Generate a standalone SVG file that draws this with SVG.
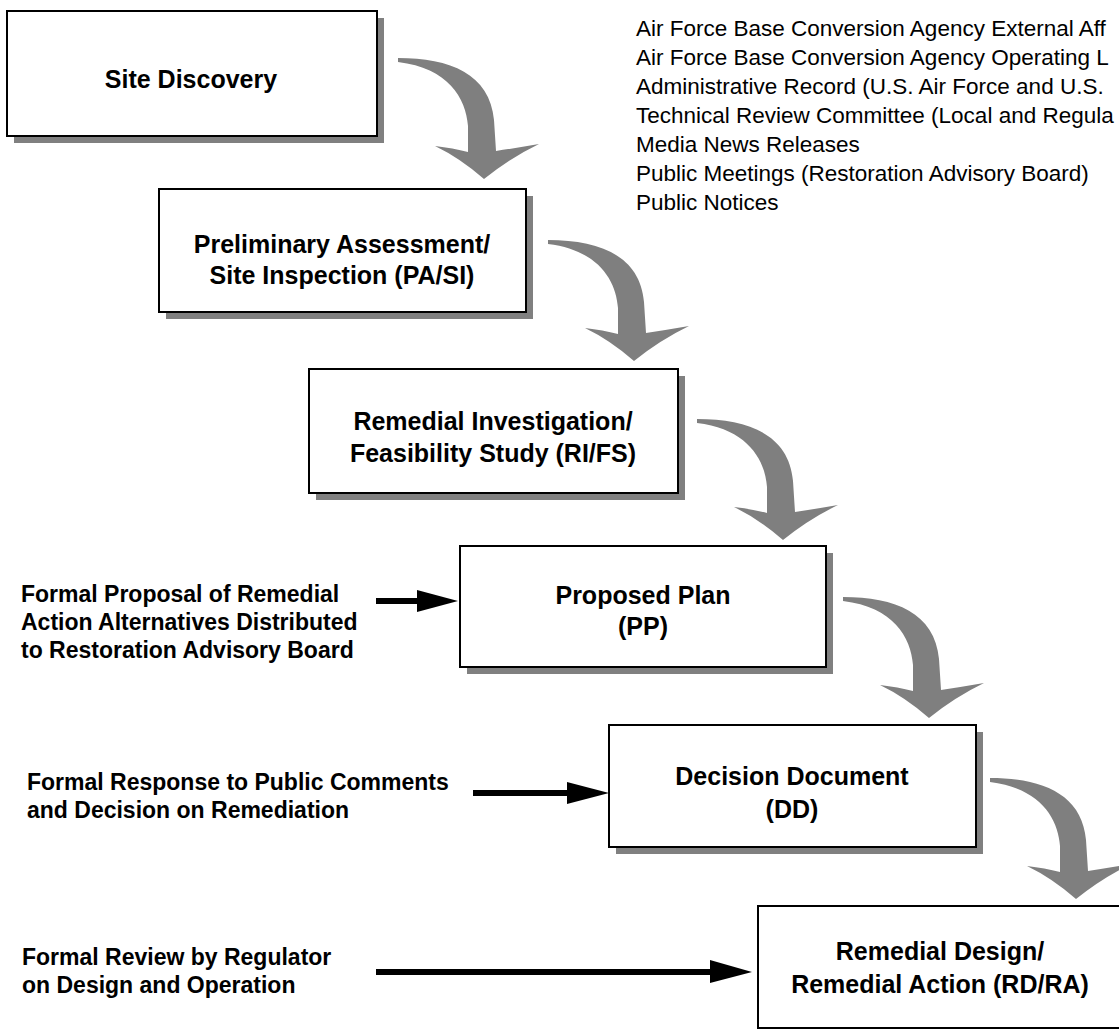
<svg xmlns="http://www.w3.org/2000/svg" width="1119" height="1030" viewBox="0 0 1119 1030">
<style>
.box{fill:#fff;stroke:#000;stroke-width:2}
.shadow{fill:#808080}
.bt{font-family:"Liberation Sans",Arial,sans-serif;font-weight:bold;font-size:25px;text-anchor:middle;fill:#000}
.lbl{font-family:"Liberation Sans",Arial,sans-serif;font-weight:bold;font-size:23px;fill:#000}
.lst{font-family:"Liberation Sans",Arial,sans-serif;font-size:22.5px;fill:#000}
.curv{fill:#7f7f7f}
.shaft{stroke:#000;stroke-width:6;fill:none}
.head{fill:#000}
</style>
<defs>
<path id="carrow" d="M0,0 C52,0 92,16 96,62 L98,93 Q118,90 141,86 Q112,100 86,121 Q62,100 37,88 Q55,90 70,94 L70,68 C68,40 50,10 0,4 Z"/>
</defs>
<rect width="1119" height="1030" fill="#fff"/>

<g id="public-involvement-list">
<text class="lst" x="636" y="36">Air Force Base Conversion Agency External Aff</text>
<text class="lst" x="636" y="65">Air Force Base Conversion Agency Operating L</text>
<text class="lst" x="636" y="94">Administrative Record (U.S. Air Force and U.S.</text>
<text class="lst" x="636" y="123">Technical Review Committee (Local and Regula</text>
<text class="lst" x="636" y="152">Media News Releases</text>
<text class="lst" x="636" y="181">Public Meetings (Restoration Advisory Board)</text>
<text class="lst" x="636" y="210">Public Notices</text>
</g>

<g id="site-discovery">
<rect class="shadow" x="14" y="18" width="370" height="125"/>
<rect class="box" x="7" y="11" width="370" height="125"/>
<text class="bt" x="191" y="88">Site Discovery</text>
</g>

<g id="pa-si">
<rect class="shadow" x="166" y="196" width="367" height="123"/>
<rect class="box" x="159" y="189" width="367" height="123"/>
<text class="bt" x="342" y="253">Preliminary Assessment/</text>
<text class="bt" x="342" y="284">Site Inspection (PA/SI)</text>
</g>

<g id="ri-fs">
<rect class="shadow" x="316" y="376" width="369" height="124"/>
<rect class="box" x="309" y="369" width="369" height="124"/>
<text class="bt" x="493" y="430">Remedial Investigation/</text>
<text class="bt" x="493" y="462">Feasibility Study (RI/FS)</text>
</g>

<g id="proposed-plan">
<rect class="shadow" x="467" y="553" width="366" height="121"/>
<rect class="box" x="460" y="546" width="366" height="121"/>
<text class="bt" x="643" y="604">Proposed Plan</text>
<text class="bt" x="643" y="635">(PP)</text>
</g>

<g id="decision-document">
<rect class="shadow" x="616" y="732" width="367" height="122"/>
<rect class="box" x="609" y="725" width="367" height="122"/>
<text class="bt" x="792" y="785">Decision Document</text>
<text class="bt" x="792" y="818">(DD)</text>
</g>

<g id="rd-ra">
<rect class="box" x="758" y="906" width="364" height="122"/>
<text class="bt" x="940" y="960">Remedial Design/</text>
<text class="bt" x="940" y="993">Remedial Action (RD/RA)</text>
</g>

<g id="label-proposal">
<text class="lbl" x="21" y="602">Formal Proposal of Remedial</text>
<text class="lbl" x="21" y="630">Action Alternatives Distributed</text>
<text class="lbl" x="21" y="658">to Restoration Advisory Board</text>
</g>

<g id="label-response">
<text class="lbl" x="27" y="790">Formal Response to Public Comments</text>
<text class="lbl" x="27" y="818">and Decision on Remediation</text>
</g>

<g id="label-review">
<text class="lbl" x="22" y="965">Formal Review by Regulator</text>
<text class="lbl" x="22" y="993">on Design and Operation</text>
</g>

<g id="connectors">
<use href="#carrow" class="curv" transform="translate(398,58)"/>
<use href="#carrow" class="curv" transform="translate(548,240)"/>
<use href="#carrow" class="curv" transform="translate(697,419)"/>
<use href="#carrow" class="curv" transform="translate(843,597)"/>
<use href="#carrow" class="curv" transform="translate(990,778)"/>
<line class="shaft" x1="376" y1="601" x2="420" y2="601"/>
<polygon class="head" points="417,590 458,601 417,612"/>
<line class="shaft" x1="473" y1="793" x2="570" y2="793"/>
<polygon class="head" points="567,782 609,793 567,804"/>
<line class="shaft" x1="376" y1="972" x2="713" y2="972"/>
<polygon class="head" points="710,960 752,972 710,983"/>
</g>
</svg>
